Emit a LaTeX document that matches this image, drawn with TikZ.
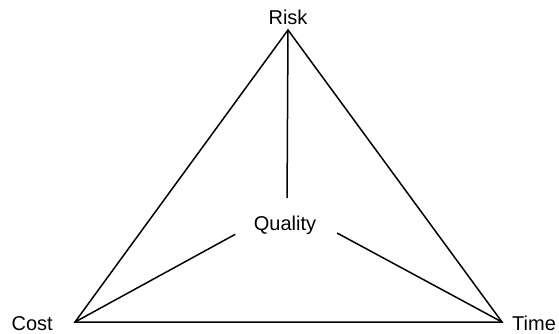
\documentclass[tikz,border=0pt]{standalone}
\usepackage{fontspec}
\setmainfont{Liberation Sans}
\usetikzlibrary{positioning}

\tikzset{
  corner/.style={font=\fontsize{20}{24}\selectfont, inner sep=0pt},
  edge/.style={line width=1.5pt, line join=miter}
}

\begin{document}
\begin{tikzpicture}[x=1pt, y=-1pt]
\useasboundingbox (0,0) rectangle (559,334);
% triangle corners and the point the spokes run to
\coordinate (apex) at (288,30);
\coordinate (left) at (75,322);
\coordinate (right) at (502,322);
\coordinate (hub) at (287,206);
\node[corner, anchor=base] (risk) at (288,25) {Risk};
\node[corner, anchor=base east] (cost) at (53,330) {Cost};
\node[corner, anchor=base west] (time) at (512,330) {Time};
\node[corner, anchor=base] (quality) at (285,230) {Quality};
%% outer triangle
\draw[edge] (apex) -- (left) -- (right) -- cycle;
%% spokes, cut short round the label
\draw[edge, shorten >=8pt] (apex) -- (hub);
\draw[edge, shorten >=59pt] (left) -- (hub);
\draw[edge, shorten >=57pt] (right) -- (hub);
\end{tikzpicture}
\end{document}
